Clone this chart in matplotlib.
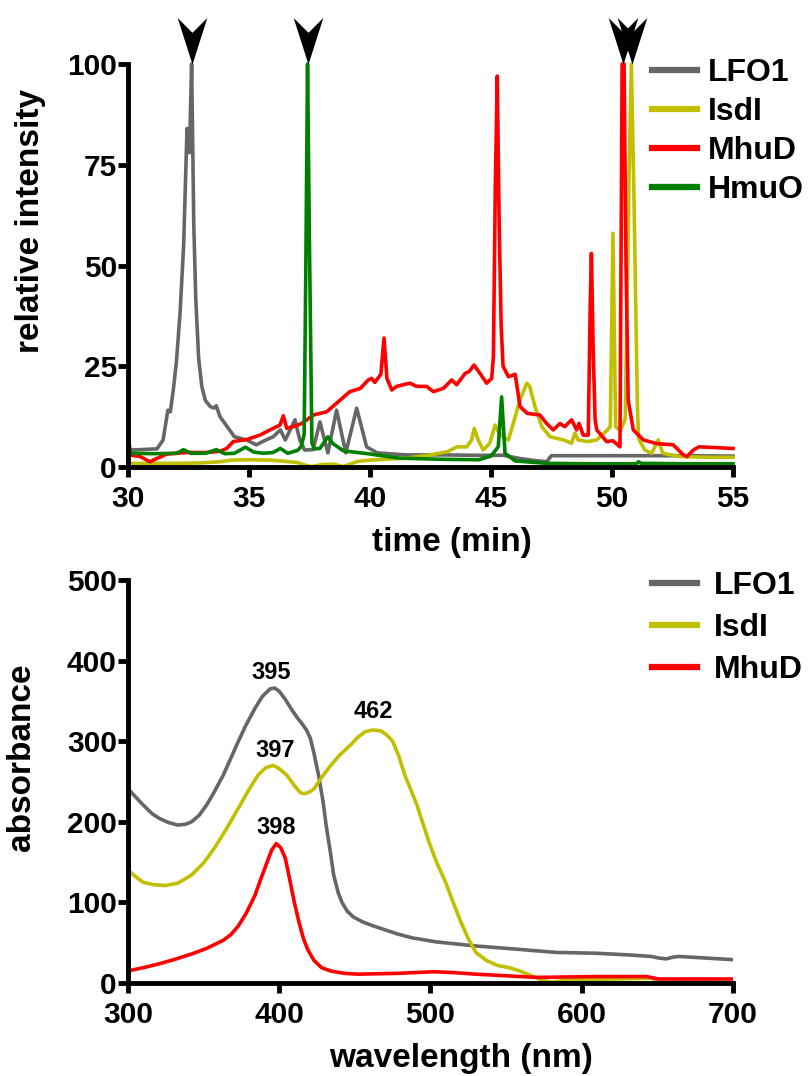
import matplotlib
matplotlib.use('Agg')
import matplotlib.pyplot as plt
from matplotlib.path import Path
from matplotlib.lines import Line2D

plt.rcParams['font.family'] = 'Liberation Sans'
plt.rcParams['font.weight'] = 'bold'

# top panel - HPLC traces (time in min, relative intensity)
lfo1_t = [30.0, 30.5, 31.2, 31.45, 31.65, 31.75, 31.87, 32.0, 32.15, 32.3, 32.44, 32.54,
          32.63, 32.72, 32.8, 32.92, 33.05, 33.2, 33.4, 33.55, 33.65, 33.8, 34.1, 34.4,
          34.9, 35.3, 35.7, 36.0, 36.3, 36.5, 36.7, 36.9, 37.1, 37.3, 37.65, 37.93, 38.26,
          38.62, 39.0, 39.45, 39.86, 40.3, 41.5, 43.0, 44.5, 45.5, 46.2, 46.8, 47.3, 47.5,
          49.0, 51.0, 53.0, 55.0]
lfo1_i = [4.2, 4.3, 4.5, 6.7, 14.1, 13.7, 19, 26, 38, 55, 84, 78,
          100, 60, 42, 27, 20, 16.5, 15, 14.6, 15.2, 12.5, 10, 7.5,
          6.7, 5.5, 6.7, 7.5, 9.2, 6.7, 9.2, 11.7, 6.7, 4.2, 4.3, 11.2, 3.5,
          14.1, 3.5, 14.6, 5.0, 3.5, 3.0, 3.0, 2.9, 2.9, 2.1, 1.6, 1.3, 2.8,
          2.8, 2.8, 2.8, 2.7]

isdi_t = [30.0, 31.0, 32.0, 33.0, 33.8, 34.3, 35.0, 35.9, 36.5, 37.0, 37.3, 37.6, 38.0,
          38.5, 38.9, 39.5, 40.0, 41.5, 42.5, 43.2, 43.6, 44.0, 44.2, 44.31, 44.47, 44.68,
          44.95, 45.17, 45.31, 45.5, 45.72, 45.92, 46.2, 46.48, 46.6, 46.82, 47.1, 47.44,
          48.0, 48.33, 48.47, 48.6, 49.0, 49.37, 49.78, 49.93, 50.04, 50.15, 50.35, 50.55,
          50.7, 50.8, 50.9, 51.05, 51.1, 51.36, 51.64, 51.91, 52.1, 52.8, 54.0, 55.0]
isdi_i = [0.9, 0.9, 0.9, 1.0, 1.3, 1.7, 1.8, 1.7, 1.4, 1.1, 0.5, 0.1, 0.6,
          0.7, 0.1, 1.4, 1.7, 2.2, 3.0, 3.8, 5.0, 5.0, 6.7, 9.6, 6.7, 4.2,
          5.9, 10.4, 8.7, 7.5, 6.7, 10.8, 16.6, 20.8, 20, 15, 10, 7.5,
          6.7, 5.9, 8.4, 6.7, 6.3, 6.7, 9, 10, 58, 10, 9, 12,
          70, 100, 70, 15, 7, 4.2, 3.4, 6.7, 3.4, 2.6, 2.4, 2.4]

mhud_t = [30.0, 30.5, 30.91, 31.19, 31.6, 32.43, 33.26, 33.8, 34.08, 34.35, 34.9, 35.45,
          35.87, 36.28, 36.42, 36.56, 36.84, 37.18, 37.66, 38.21, 38.69, 39.17, 39.6, 39.93,
          40.07, 40.2, 40.45, 40.58, 40.7, 40.9, 41.1, 41.65, 41.93, 42.34, 42.62, 43.03,
          43.38, 43.58, 43.93, 44.1, 44.3, 44.55, 44.82, 45.03, 45.1, 45.18, 45.26, 45.34,
          45.42, 45.5, 45.72, 46.0, 46.2, 46.5, 47.02, 47.3, 47.57, 47.85, 48.05, 48.33,
          48.54, 48.64, 48.81, 49.02, 49.1, 49.15, 49.22, 49.3, 49.37, 49.78, 50.04, 50.33,
          50.42, 50.5, 50.58, 50.67, 50.88, 51.3, 51.85, 52.53, 52.95, 53.1, 53.36, 53.6, 55.0]
mhud_i = [3.0, 2.6, 1.3, 2.1, 3.2, 3.6, 3.6, 3.9, 4.6, 6.3, 6.8, 7.9,
          9.2, 10.4, 12.7, 9.6, 10.0, 10.8, 12.9, 13.7, 16.2, 18.7, 19.5, 21.6,
          22.0, 21.0, 23.0, 32.0, 22.0, 19.1, 20, 20.8, 20, 20, 18.7, 19.5,
          21.6, 20.4, 23.2, 23.7, 25.3, 23.2, 20.8, 22, 27.4, 70, 97, 60,
          35, 25, 22.4, 23, 15, 13.3, 12.9, 10.8, 9.2, 10.8, 10, 11.7,
          9.2, 10.8, 7.9, 7.9, 40, 53, 30, 12, 9.2, 6.3, 6.5, 5.0,
          100, 100, 50, 16.6, 9.2, 6.7, 5.8, 5.5, 3.0, 2.6, 4.2, 5.0, 4.6]

hmuo_t = [30.0, 30.1, 31.0, 32.0, 32.3, 32.6, 33.2, 33.65, 34.0, 34.4, 34.85, 35.2,
          35.6, 36.0, 36.3, 36.6, 37.0, 37.15, 37.28, 37.35, 37.42, 37.5, 37.6, 37.7,
          37.93, 38.26, 38.47, 38.9, 39.9, 41.2, 43.0, 44.5, 45.0, 45.3, 45.44, 45.58,
          46.0, 47.3, 49.0, 51.0, 51.1, 51.2, 53.0, 55.0]
hmuo_i = [8.4, 3.4, 3.3, 3.4, 4.3, 3.4, 3.4, 4.3, 3.3, 3.4, 4.9, 3.7,
          3.4, 3.6, 4.6, 3.4, 4.1, 5, 8, 50, 100, 55, 6, 4.5,
          4.6, 7.5, 5.8, 4.0, 3.3, 2.2, 1.9, 1.8, 2.7, 5, 17.4, 3.4,
          1.5, 0.9, 0.8, 0.8, 1.3, 0.9, 0.8, 0.8]

arrow_times = [32.63, 37.42, 50.45, 50.82]

# bottom panel - UV-vis spectra (wavelength in nm, absorbance)
lfo1_wl = [300, 305, 310, 316, 321, 327, 333, 338, 342, 347, 352, 357, 363, 368, 373, 378,
           384, 389, 394, 397, 400, 404, 408, 412, 415, 418, 420.5, 423, 426, 429, 431, 434,
           436, 439, 441.5, 445, 449, 455, 462, 470, 478, 488, 504, 530, 557, 583, 609, 630,
           646, 651, 656, 660, 664, 682, 700]
lfo1_abs = [241, 231, 221, 210, 204, 199, 196, 197, 200, 208, 221, 237, 258, 279, 300, 320,
            341, 356, 365, 366, 362, 352, 340, 329, 322, 314, 304, 285, 258, 225, 196, 160,
            134, 112, 100, 89, 82, 76, 71, 66, 61, 56, 51, 46, 42, 38, 37, 35,
            33, 31, 30, 32, 33, 31, 29]

isdi_wl = [300, 305, 310, 317, 325, 333, 342, 350, 357, 365, 373, 380, 386, 391, 396, 400,
           405, 410, 414, 417, 420, 423, 428, 434, 440, 447, 452, 457, 462, 467, 471, 475,
           479, 483, 487, 491, 495, 499, 504, 510, 515, 520, 525, 530, 537, 544, 552, 559,
           563, 567, 573, 580, 588, 596, 622, 646, 650, 653, 660, 664, 667, 682, 700]
isdi_abs = [140, 132, 125, 122, 121, 124, 134, 149, 167, 191, 217, 240, 258, 267, 270, 266,
            258, 245, 236, 235, 237, 241, 255, 270, 283, 295, 305, 312, 314, 313, 308, 300,
            282, 258, 240, 221, 198, 175, 150, 125, 100, 76, 55, 38, 28, 22, 19, 15,
            12, 9, 4, 1, 3, 4, 5, 6, 2, 0, 0, 3, 3, 2, 0]

mhud_wl = [300, 310, 321, 332, 342, 352, 363, 368, 373, 378, 384, 388, 392, 395, 398, 401,
           404, 407, 410, 413, 416, 419, 423, 428, 434, 443, 452, 478, 490, 502, 515, 530,
           550, 570, 609, 643, 651, 700]
mhud_abs = [15, 19, 24, 30, 36, 43, 53, 60, 71, 86, 109, 130, 150, 165, 173, 168,
            155, 128, 100, 76, 55, 41, 28, 19, 15, 12, 11, 12, 13, 14, 13, 11,
            9, 7, 8, 8, 5, 5]

peak_labels = ['395', '397', '462', '398']
peak_wl = [395, 397, 462, 398]
peak_abs = [377, 281, 329, 185]

gray = '#666666'
olive = '#c0c000'
red = '#ff0000'
green = '#008000'

fig = plt.figure(figsize=(8.11, 10.76), dpi=100)
ax1 = fig.add_axes([0.1578, 0.566, 0.746, 0.3745])
ax2 = fig.add_axes([0.1578, 0.0864, 0.746, 0.3745])

lw = 2.6
ax1.plot(lfo1_t, lfo1_i, color=gray, lw=lw, clip_on=False)
ax1.plot(isdi_t, isdi_i, color=olive, lw=lw, clip_on=False)
ax1.plot(mhud_t, mhud_i, color=red, lw=lw, clip_on=False)
ax1.plot(hmuo_t, hmuo_i, color=green, lw=lw, clip_on=False)

# arrowheads over the main peaks
arrow = Path([(0, 0), (-15, 47), (0, 32), (15, 47), (0, 0)],
             [Path.MOVETO, Path.LINETO, Path.LINETO, Path.LINETO, Path.CLOSEPOLY])
ax1.plot(arrow_times, [100] * len(arrow_times), ls='none', marker=arrow,
         markersize=67, color='black', markeredgewidth=0, clip_on=False)

ax1.set_xlim(30, 55)
ax1.set_ylim(0, 100)
ax1.set_xticks([30, 35, 40, 45, 50, 55])
ax1.set_yticks([0, 25, 50, 75, 100])
ax1.set_xlabel('time (min)', fontsize=24, fontweight='bold')
ax1.set_ylabel('relative intensity', fontsize=24, fontweight='bold')
ax1.xaxis.set_label_coords(0.535, -0.15)
ax1.yaxis.set_label_coords(-0.135, 0.61)

ax2.plot(lfo1_wl, lfo1_abs, color=gray, lw=lw)
ax2.plot(isdi_wl, isdi_abs, color=olive, lw=lw)
ax2.plot(mhud_wl, mhud_abs, color=red, lw=lw)
for lab, x, y in zip(peak_labels, peak_wl, peak_abs):
    ax2.text(x, y, lab, ha='center', va='baseline', fontsize=17, fontweight='bold')

ax2.set_xlim(300, 700)
ax2.set_ylim(0, 500)
ax2.set_xticks([300, 400, 500, 600, 700])
ax2.set_yticks([0, 100, 200, 300, 400, 500])
ax2.set_xlabel('wavelength (nm)', fontsize=24, fontweight='bold')
ax2.set_ylabel('absorbance', fontsize=24, fontweight='bold')
ax2.xaxis.set_label_coords(0.55, -0.15)
ax2.yaxis.set_label_coords(-0.15, 0.56)

for ax in [ax1, ax2]:
    ax.spines['top'].set_visible(False)
    ax.spines['right'].set_visible(False)
    ax.spines['left'].set_linewidth(3.5)
    ax.spines['bottom'].set_linewidth(3.5)
    ax.tick_params(axis='both', direction='out', length=7, width=3.5, labelsize=21.5)
    ax.tick_params(axis='x', pad=6)
    ax.tick_params(axis='y', pad=1)

# legends
names_top = ['LFO1', 'IsdI', 'MhuD', 'HmuO']
cols_top = [gray, olive, red, green]
h1 = [Line2D([], [], color=c, lw=4.5) for c in cols_top]
fig.legend(h1, names_top, loc='upper left', bbox_to_anchor=(652 / 811, 1 - 58 / 1076),
           frameon=False, fontsize=23, handlelength=1.4, handletextpad=0.35,
           labelspacing=0.28, borderpad=0, borderaxespad=0)

h2 = [Line2D([], [], color=c, lw=4.5) for c in cols_top[:3]]
fig.legend(h2, names_top[:3], loc='upper left', bbox_to_anchor=(652 / 811, 1 - 571 / 1076),
           frameon=False, fontsize=23, handlelength=1.4, handletextpad=0.55,
           labelspacing=0.38, borderpad=0, borderaxespad=0)

fig.savefig('out.png', dpi=100)
